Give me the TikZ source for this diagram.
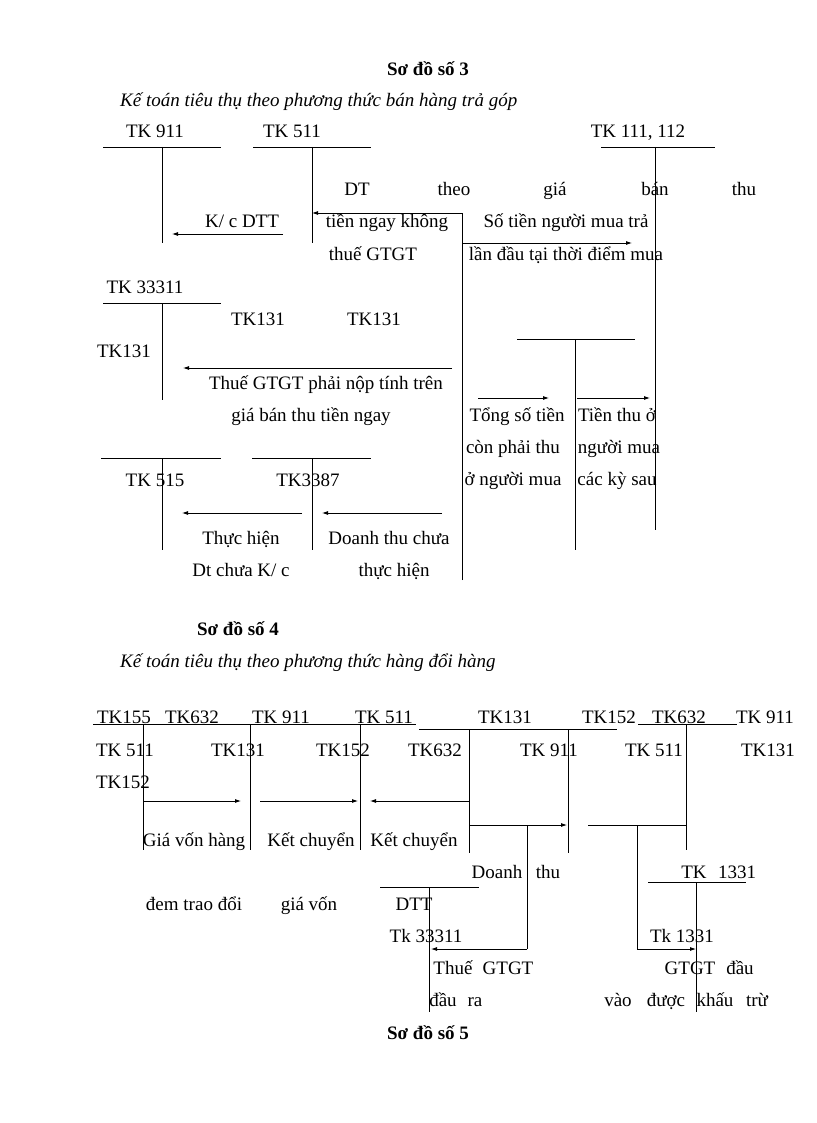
\documentclass[tikz,border=0pt]{standalone}
\usepackage{fontspec}
\setmainfont{Liberation Serif}
\usetikzlibrary{arrows.meta}
\begin{document}
\begin{tikzpicture}[x=1pt,y=-1pt,
  ln/.style={line width=0.8pt},
  ar/.style={line width=0.8pt,-{Latex[length=6pt,width=4pt]}},
  t/.style={font=\fontsize{19}{22}\selectfont,inner sep=0pt,anchor=base},
  tb/.style={t,font=\fontsize{19}{22}\selectfont\bfseries},
  ti/.style={t,font=\fontsize{19}{22}\selectfont\itshape,anchor=base west}]
\useasboundingbox (0,0) rectangle (816,1123);
% ===== Diagram 3 =====
\node[tb] (t3) at (428,76) {Sơ đồ số 3};
\node[ti] (s3) at (120,107) {Kế toán tiêu thụ theo phương thức bán hàng trả góp};
\node[t] at (155,138) {TK 911};
\node[t] at (292,138) {TK 511};
\node[t] at (638,138) {TK 111, 112};
\draw[ln] (103,147)--(221,147) (162,147)--(162,243);
\draw[ln] (253,147)--(371,147) (312,147)--(312,243);
\draw[ln] (601,147)--(715,147) (655,147)--(655,530);
\node[t] at (357,196) {DT};
\node[t] at (454,196) {theo};
\node[t] at (555,196) {giá};
\node[t] at (655,196) {bán};
\node[t] at (744,196) {thu};
\draw[ln] (462,580)--(462,213);
\draw[ar] (462,213)--(312,213);
\draw[ar] (462,243)--(632,243);
\draw[ar] (283,234)--(172,234);
\node[t] at (242,228) {K/ c DTT};
\node[t] at (387,228) {tiền ngay không};
\node[t] at (373,260) {thuế GTGT};
\node[t] at (566,228) {Số tiền người mua trả};
\node[t] at (566,260) {lần đầu tại thời điểm mua};
\node[t] at (145,293) {TK 33311};
\draw[ln] (103,303)--(221,303) (162,303)--(162,400);
\node[t] at (258,325) {TK131};
\node[t] at (374,325) {TK131};
\node[t] at (124,357) {TK131};
\draw[ar] (452,368)--(183,368);
\node[t] at (326,389) {Thuế GTGT phải nộp tính trên};
\node[t] at (311,421) {giá bán thu tiền ngay};
\draw[ln] (517,339)--(635,339) (575,339)--(575,550);
\draw[ar] (478,398)--(549,398);
\draw[ar] (577,398)--(650,398);
\node[t] at (517,421) {Tổng số tiền};
\node[t] at (513,453) {còn phải thu};
\node[t] at (513,485) {ở người mua};
\node[t] at (617,421) {Tiền thu ở};
\node[t] at (619,453) {người mua};
\node[t] at (617,485) {các kỳ sau};
\draw[ln] (101,458)--(221,458) (162,458)--(162,550);
\draw[ln] (252,458)--(371,458) (312,458)--(312,550);
\node[t] at (155,486) {TK 515};
\node[t] at (308,486) {TK3387};
\draw[ar] (302,513)--(182,513);
\draw[ar] (442,513)--(322,513);
\node[t] at (241,544) {Thực hiện};
\node[t] at (241,576) {Dt chưa K/ c};
\node[t] at (389,544) {Doanh thu chưa};
\node[t] at (394,576) {thực hiện};
% ===== Diagram 4 =====
\node[tb] (t4) at (238,635) {Sơ đồ số 4};
\node[ti] (s4) at (120,667) {Kế toán tiêu thụ theo phương thức hàng đổi hàng};
\draw[ln] (93,724)--(416,724) (419,729)--(617,729) (638,724)--(737,724);
\foreach \x/\s in {124/TK155,192/TK632,281/TK 911,384/TK 511,505/TK131,609/TK152,679/TK632,765/TK 911}
  \node[t] at (\x,723) {\s};
\foreach \x/\s in {125/TK 511,238/TK131,343/TK152,435/TK632,549/TK 911,654/TK 511,768/TK131}
  \node[t] at (\x,756) {\s};
\node[t] at (123,788) {TK152};
\draw[ln] (143,724)--(143,850) (250,724)--(250,850) (360,724)--(360,850)
          (469,729)--(469,853) (568,729)--(568,853) (686,724)--(686,850);
\draw[ar] (143,801)--(241,801);
\draw[ar] (260,801)--(358,801);
\draw[ar] (469,801)--(370,801);
\draw[ar] (469,825)--(567,825);
\draw[ln] (527,825)--(527,949);
\draw[ar] (527,949)--(431,949);
\draw[ln] (588,825)--(686,825) (637,825)--(637,949);
\draw[ar] (637,949)--(696,949);
\node[t] at (194,846) {Giá vốn hàng};
\node[t] at (311,846) {Kết chuyển};
\node[t] at (414,846) {Kết chuyển};
\node[t] at (497,878) {Doanh};
\node[t] at (548,878) {thu};
\node[t] at (194,910) {đem trao đổi};
\node[t] at (309,910) {giá vốn};
\node[t] at (414,910) {DTT};
\draw[ln] (380,887)--(479,887) (429,887)--(429,1012);
\node[t] at (426,942) {Tk 33311};
\node[t] at (453,974) {Thuế};
\node[t] at (508,974) {GTGT};
\node[t] at (443,1006) {đầu};
\node[t] at (475,1006) {ra};
\draw[ln] (648,882)--(746,882) (696,882)--(696,1012);
\node[t] at (694,878) {TK};
\node[t] at (737,878) {1331};
\node[t] at (682,942) {Tk 1331};
\node[t] at (690,974) {GTGT};
\node[t] at (740,974) {đầu};
\node[t] at (618,1006) {vào};
\node[t] at (666,1006) {được};
\node[t] at (715,1006) {khấu};
\node[t] at (757,1006) {trừ};
\node[tb] (t5) at (428,1039) {Sơ đồ số 5};
\end{tikzpicture}
\end{document}
